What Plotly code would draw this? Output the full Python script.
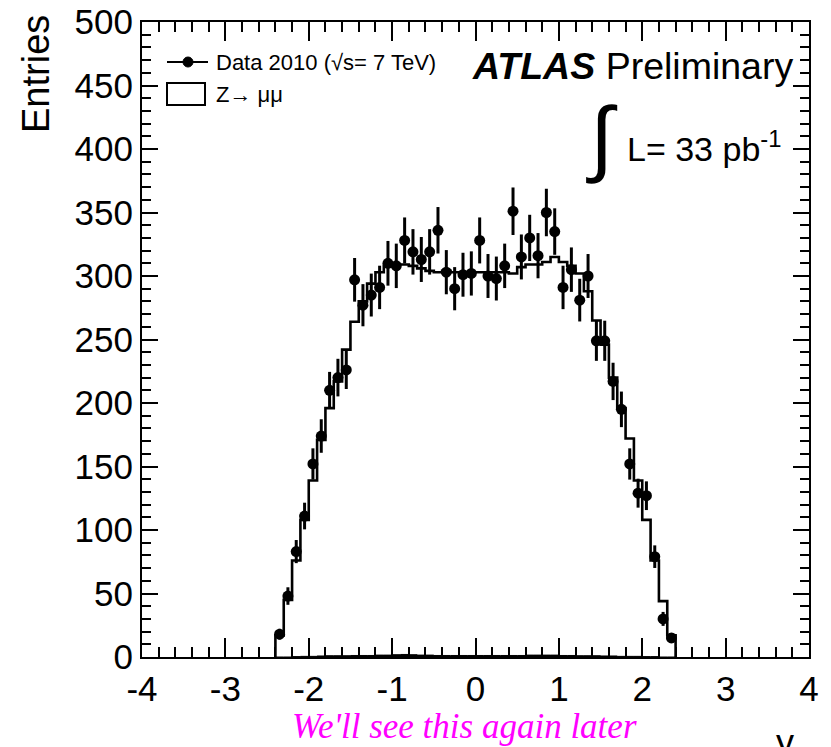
import plotly.graph_objects as go

# ---- data ----
bin_centers = [-2.35, -2.25, -2.15, -2.05, -1.95, -1.85, -1.75, -1.65, -1.55, -1.45,
               -1.35, -1.25, -1.15, -1.05, -0.95, -0.85, -0.75, -0.65, -0.55, -0.45,
               -0.35, -0.25, -0.15, -0.05, 0.05, 0.15, 0.25, 0.35, 0.45, 0.55,
               0.65, 0.75, 0.85, 0.95, 1.05, 1.15, 1.25, 1.35, 1.45, 1.55,
               1.65, 1.75, 1.85, 1.95, 2.05, 2.15, 2.25, 2.35]
bin_width = 0.1

data_2010 = [18, 48, 83, 111, 152, 174, 210, 220, 226, 297,
             277, 285, 291, 310, 308, 328, 319, 313, 319, 336,
             303, 290, 301, 302, 328, 300, 298, 308, 351, 315,
             330, 316, 350, 335, 291, 305, 281, 300, 249, 249,
             217, 195, 152, 129, 127, 79, 30, 15]
data_err = [4.2, 6.9, 9.1, 10.5, 12.3, 13.2, 14.5, 14.8, 15.0, 17.2,
            16.6, 16.9, 17.1, 17.6, 17.5, 18.1, 17.9, 17.7, 17.9, 18.3,
            17.4, 17.0, 17.3, 17.4, 18.1, 17.3, 17.3, 17.5, 18.7, 17.7,
            18.2, 17.8, 18.7, 18.3, 17.1, 17.5, 16.8, 17.3, 15.8, 15.8,
            14.7, 14.0, 12.3, 11.4, 11.3, 8.9, 5.5, 3.9]

mc_zmumu = [17, 45, 76, 108, 139, 171, 196, 217, 242, 264,
            280, 294, 303, 308, 309, 309, 308, 306, 304, 303,
            304, 303, 303, 303, 303, 303, 303, 303, 302, 307,
            309, 309, 311, 315, 311, 308, 302, 288, 265, 246,
            220, 196, 172, 139, 108, 76, 44, 17]

background = [0, 0, 0.3, 0.5, 0.5, 0.8, 1, 1, 1, 1.2,
              1.2, 1.2, 1.5, 1.5, 1.8, 2, 1.8, 1.5, 1.5, 1.2,
              1.2, 1.2, 1.2, 1.2, 1.2, 1.2, 1.2, 1.2, 1.2, 1.2,
              1.5, 1.5, 1.5, 1.5, 1.2, 1.2, 1, 1, 1, 0.8,
              0.8, 0.5, 0.5, 0.5, 0.3, 0.3, 0, 0]

x_tick_vals = [-4, -3, -2, -1, 0, 1, 2, 3, 4]
x_tick_text = ["-4", "-3", "-2", "-1", "0", "1", "2", "3", "4"]
y_tick_vals = [0, 50, 100, 150, 200, 250, 300, 350, 400, 450, 500]
y_tick_text = [str(v) for v in y_tick_vals]

# ---- geometry helpers (plot frame in pixels) ----
W, H = 831, 747
L_PX, R_PX, T_PX, B_PX = 142, 809, 22, 657


def px_x(p):
    return (p - L_PX) / (R_PX - L_PX)


def px_y(p):
    return (B_PX - p) / (B_PX - T_PX)


def step_xy(vals):
    lo = [c - bin_width / 2 for c in bin_centers]
    hi_last = bin_centers[-1] + bin_width / 2
    xs = [lo[0]] + lo + [hi_last, hi_last]
    ys = [0] + list(vals) + [vals[-1], 0]
    return xs, ys


FONT = "Liberation Sans, Arial, Helvetica, sans-serif"

fig = go.Figure()

bx, by = step_xy(background)
fig.add_trace(go.Scatter(x=bx, y=by, mode="lines", line=dict(color="black", width=1, shape="hv"),
                         fill="tozeroy", fillcolor="black", showlegend=False, hoverinfo="skip"))

mx, my = step_xy(mc_zmumu)
fig.add_trace(go.Scatter(x=mx, y=my, mode="lines", line=dict(color="black", width=2.6, shape="hv"),
                         showlegend=False, name="Z→ μμ"))

fig.add_trace(go.Scatter(x=bin_centers, y=data_2010, mode="markers",
                         marker=dict(color="black", size=11, symbol="circle"),
                         error_y=dict(type="data", array=data_err, visible=True, color="black",
                                      thickness=3, width=0),
                         showlegend=False, name="Data 2010"))

axis_common = dict(showline=True, linecolor="black", linewidth=2, mirror="allticks",
                   ticks="inside", tickcolor="black", showgrid=False, zeroline=False,
                   automargin=False,
                   tickfont=dict(family=FONT, size=35, color="black"))

fig.update_xaxes(range=[-4, 4], tickmode="array", tickvals=x_tick_vals, ticktext=x_tick_text,
                 ticklen=19, tickwidth=1.5,
                 minor=dict(dtick=0.2, tick0=0, ticks="inside", ticklen=10, tickwidth=1.5,
                            tickcolor="black", showgrid=False),
                 **axis_common)
fig.update_yaxes(range=[0, 500], tickmode="array", tickvals=y_tick_vals, ticktext=y_tick_text,
                 ticklen=16, tickwidth=1.5,
                 minor=dict(dtick=10, tick0=0, ticks="inside", ticklen=9, tickwidth=1.5,
                            tickcolor="black", showgrid=False),
                 **axis_common)

shapes = [
    # legend: data marker line
    dict(type="line", xref="paper", yref="paper", x0=px_x(167), x1=px_x(208), y0=px_y(62), y1=px_y(62),
         line=dict(color="black", width=2)),
    dict(type="circle", xref="paper", yref="paper", x0=px_x(183), x1=px_x(193), y0=px_y(57), y1=px_y(67),
         fillcolor="black", line=dict(color="black", width=1)),
    # legend: MC box
    dict(type="rect", xref="paper", yref="paper", x0=px_x(167), x1=px_x(205), y0=px_y(83), y1=px_y(105),
         line=dict(color="black", width=2), fillcolor="white"),
]

annotations = [
    dict(text="Data 2010 (√s= 7 TeV)", x=px_x(214), y=px_y(62), xref="paper", yref="paper",
         xanchor="left", yanchor="middle", showarrow=False, font=dict(family=FONT, size=22, color="black")),
    dict(text="Z→ μμ", x=px_x(214), y=px_y(94), xref="paper", yref="paper",
         xanchor="left", yanchor="middle", showarrow=False, font=dict(family=FONT, size=22, color="black")),
    dict(text="<b><i>ATLAS</i></b> Preliminary", x=px_x(470), y=px_y(66), xref="paper", yref="paper",
         xanchor="left", yanchor="middle", showarrow=False, font=dict(family=FONT, size=37.5, color="black")),
    dict(text="∫", x=px_x(602), y=px_y(137), xref="paper", yref="paper",
         xanchor="center", yanchor="middle", showarrow=False,
         font=dict(family="DejaVu Sans, sans-serif", size=84, color="black", weight=200)),
    dict(text="L= 33 pb<sup>-1</sup>", x=px_x(625), y=px_y(146), xref="paper", yref="paper",
         xanchor="left", yanchor="middle", showarrow=False, font=dict(family=FONT, size=34, color="black")),
    dict(text="Entries", x=px_x(36), y=px_y(13), xref="paper", yref="paper", textangle=-90,
         xanchor="center", yanchor="top", showarrow=False, font=dict(family=FONT, size=38, color="black")),
    dict(text="y", x=px_x(785), y=px_y(742), xref="paper", yref="paper",
         xanchor="center", yanchor="middle", showarrow=False, font=dict(family=FONT, size=36, color="black")),
    dict(text="<i>We'll see this again later</i>", x=px_x(464), y=px_y(726), xref="paper", yref="paper",
         xanchor="center", yanchor="middle", showarrow=False,
         font=dict(family="Liberation Serif, Times New Roman, serif", size=35, color="#ff00ff")),
]

fig.update_layout(width=W, height=H, margin=dict(l=L_PX, r=W - R_PX, t=T_PX, b=H - B_PX, pad=0),
                  paper_bgcolor="white", plot_bgcolor="white", showlegend=False,
                  shapes=shapes, annotations=annotations)

fig.write_html("out.html", config={"displayModeBar": False},
               post_script="document.body.style.margin='0';document.body.style.overflow='hidden';")
